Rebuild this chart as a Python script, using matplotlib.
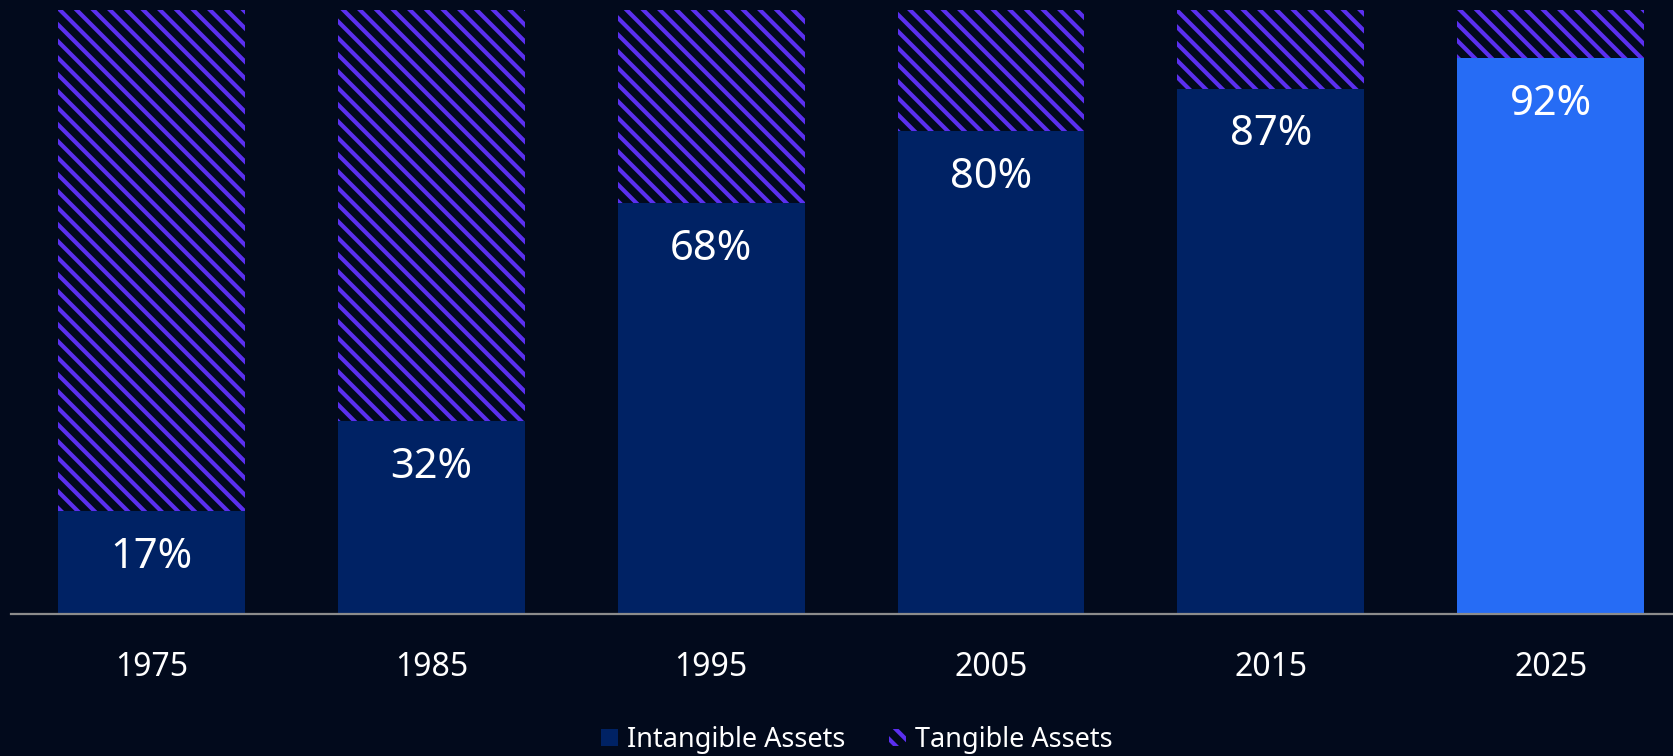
import matplotlib
matplotlib.use("Agg")
import matplotlib.pyplot as plt
from matplotlib.patches import Patch
import numpy as np

years = ["1975", "1985", "1995", "2005", "2015", "2025"]
intangible = [17, 32, 68, 80, 87, 92]
tangible = [83, 68, 32, 20, 13, 8]

bg = "#020a1c"
dark_blue = "#002264"
bright_blue = "#266cf5"
purple = "#5b2ff0"

plt.rcParams["font.family"] = ["Noto Sans", "DejaVu Sans"]
plt.rcParams["hatch.linewidth"] = 3.0

fig = plt.figure(figsize=(16.73, 7.56), dpi=100, facecolor=bg)
ax = fig.add_axes([11 / 1673, 142 / 756, 1 - 11 / 1673, 604 / 756])
ax.set_facecolor(bg)

x = np.arange(len(years))
w = 0.668
colors = [dark_blue] * (len(years) - 1) + [bright_blue]
ax.bar(x, intangible, width=w, color=colors, linewidth=0)
ax.bar(x, tangible, width=w, bottom=intangible, facecolor=bg,
       edgecolor=purple, hatch="\\\\", linewidth=0)

for xi, v in zip(x, intangible):
    ax.annotate(f"{v}%", xy=(xi, v), xytext=(0, -33), textcoords="offset points",
                ha="center", va="center", color="white", fontsize=30)

ax.set_xlim(-0.502, 5.437)
ax.set_ylim(0, 100)
ax.set_xticks(x)
ax.set_xticklabels(years, color="white", fontsize=23)
ax.tick_params(axis="x", length=0, pad=27)
ax.set_yticks([])
for s in ["top", "right", "left"]:
    ax.spines[s].set_visible(False)
ax.spines["bottom"].set_color("#8c8c8c")
ax.spines["bottom"].set_linewidth(1.6)

handles = [Patch(facecolor=dark_blue, linewidth=0, label="Intangible Assets"),
           Patch(facecolor=bg, edgecolor=purple, hatch="\\\\", linewidth=0,
                 label="Tangible Assets")]
leg = fig.legend(handles=handles, loc="center", bbox_to_anchor=(0.512, 16 / 756),
                 ncol=2, frameon=False, fontsize=19.5, handlelength=0.63,
                 handleheight=0.6, handletextpad=0.33, columnspacing=1.6)
for t in leg.get_texts():
    t.set_color("white")

fig.savefig("out.png", facecolor=bg)
